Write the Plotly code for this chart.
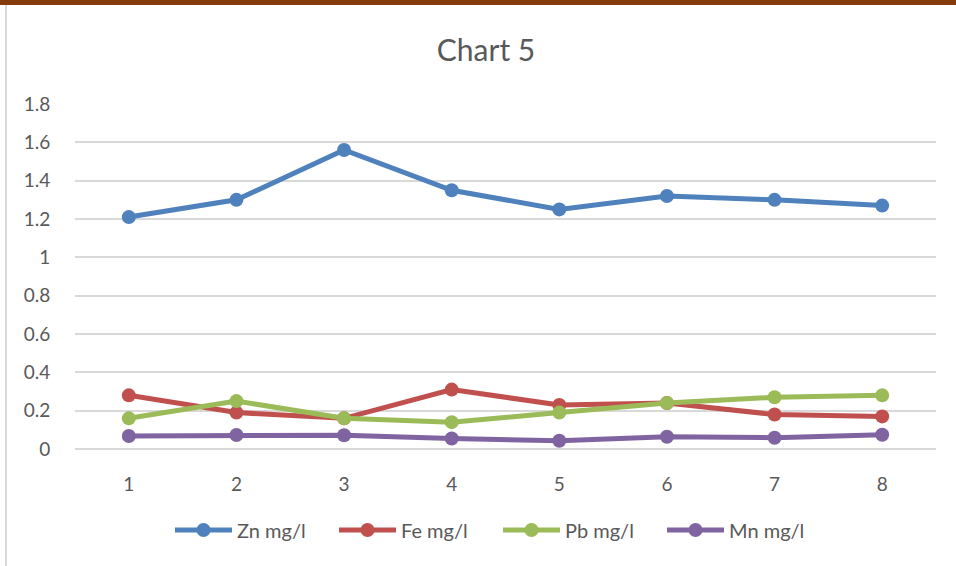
import plotly.graph_objects as go

# Sample numbers along the x axis
samples = ["1", "2", "3", "4", "5", "6", "7", "8"]

# Concentrations in mg/l per sample
zn = [1.21, 1.30, 1.56, 1.35, 1.25, 1.32, 1.30, 1.27]
fe = [0.28, 0.19, 0.16, 0.31, 0.23, 0.24, 0.18, 0.17]
pb = [0.16, 0.25, 0.16, 0.14, 0.19, 0.24, 0.27, 0.28]
mn = [0.068, 0.073, 0.072, 0.055, 0.043, 0.064, 0.059, 0.074]

y_ticks = [0, 0.2, 0.4, 0.6, 0.8, 1, 1.2, 1.4, 1.6, 1.8]
y_tick_text = ["0", "0.2", "0.4", "0.6", "0.8", "1", "1.2", "1.4", "1.6", "1.8"]

series = [
    ("Zn mg/l", zn, "#4F81BD"),
    ("Fe mg/l", fe, "#C0504D"),
    ("Pb mg/l", pb, "#9BBB59"),
    ("Mn mg/l", mn, "#8064A2"),
]

FONT = "Lato, 'Open Sans', sans-serif"
TEXT = "#595959"

fig = go.Figure()
for name, vals, color in series:
    fig.add_trace(go.Scatter(
        x=samples, y=vals, name=name, mode="lines+markers",
        line=dict(color=color, width=5),
        marker=dict(color=color, size=14),
    ))

# Plot area geometry (pixels) used to place frame decorations in paper units
W, H = 956, 566
L, R, T, B = 75, 20, 104, 117
pw, ph = W - L - R, H - T - B


def px_x(x):
    return (x - L) / pw


def px_y(y):
    return (H - B - y) / ph


shapes = [
    # dark header strip
    dict(type="rect", xref="paper", yref="paper",
         x0=px_x(-5), x1=px_x(W + 5), y0=px_y(5), y1=px_y(-5),
         fillcolor="#843C0C", line=dict(width=0), layer="above"),
    # left frame edge
    dict(type="line", xref="paper", yref="paper",
         x0=px_x(6), x1=px_x(6), y0=px_y(5), y1=px_y(H + 5),
         line=dict(color="#D9D9D9", width=2), layer="above"),
]

fig.update_layout(
    width=W, height=H,
    margin=dict(l=L, r=R, t=T, b=B, pad=0, autoexpand=False),
    paper_bgcolor="white", plot_bgcolor="white",
    font=dict(family=FONT, color=TEXT, size=19),
    title=dict(text="Chart 5", xref="container", x=486 / W, xanchor="center",
               y=(H - 50) / H, yanchor="middle",
               font=dict(family=FONT, size=30, color=TEXT)),
    showlegend=True,
    legend=dict(orientation="h", x=px_x(170), xanchor="left",
                y=px_y(530), yanchor="middle",
                font=dict(family=FONT, size=20, color=TEXT),
                itemwidth=57, entrywidth=92, entrywidthmode="pixels",
                bgcolor="rgba(0,0,0,0)"),
    shapes=shapes,
    xaxis=dict(type="category", range=[-0.5, 7.5], showgrid=False,
               showline=False, zeroline=False,
               ticks="outside", ticklen=18, tickcolor="rgba(0,0,0,0)",
               tickfont=dict(family=FONT, size=19, color=TEXT)),
    yaxis=dict(range=[0, 1.8], tickvals=y_ticks, ticktext=y_tick_text,
               showgrid=True, gridcolor="#D9D9D9", gridwidth=1.5,
               zeroline=True, zerolinecolor="#D9D9D9", zerolinewidth=1.5,
               showline=False,
               ticks="outside", ticklen=20, tickcolor="rgba(0,0,0,0)",
               tickfont=dict(family=FONT, size=19, color=TEXT)),
)

fig.write_html("out.html")
